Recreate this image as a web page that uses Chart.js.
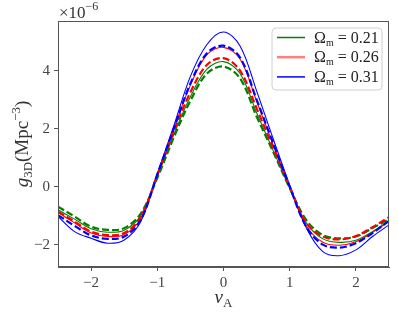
<!DOCTYPE html>
<html>
<head>
<meta charset="utf-8">
<script src="https://cdn.jsdelivr.net/npm/chart.js@4"></script>
<style>
  html, body { margin: 0; padding: 0; background: #fff; }
  canvas { display: block; }
</style>
</head>
<body>
<canvas id="chart" width="399" height="316"></canvas>
<script>
// nu_A sample points
var xValues = [-2.5, -2.25, -2, -1.75, -1.5, -1.25, -1, -0.75, -0.5, -0.25, 0,
               0.25, 0.5, 0.75, 1, 1.25, 1.5, 1.75, 2, 2.25, 2.5];

// g_3D in units of 1e-6 Mpc^-3, solid lines
var greenSolid = [-0.80, -1.12, -1.45, -1.57, -1.50, -1.00, 0.35, 1.80, 3.10, 4.05, 4.31,
                  3.90, 2.55, 1.25, -0.05, -1.25, -1.80, -1.92, -1.85, -1.55, -1.17];
var redSolid   = [-0.89, -1.25, -1.60, -1.72, -1.65, -1.10, 0.42, 2.00, 3.50, 4.55, 4.80,
                  4.40, 2.95, 1.45, 0.00, -1.35, -1.92, -2.02, -1.90, -1.58, -1.20];
var blueSolid  = [-1.03, -1.55, -1.78, -1.95, -1.84, -1.20, 0.45, 2.10, 3.80, 4.90, 5.33,
                  4.85, 3.30, 1.65, 0.05, -1.42, -2.24, -2.38, -2.18, -1.72, -1.32];

// dashed lines
var greenDashed = [-0.69, -1.03, -1.38, -1.49, -1.43, -0.93, 0.30, 1.70, 2.96, 3.90, 4.14,
                   3.73, 2.42, 1.20, -0.05, -1.15, -1.67, -1.78, -1.72, -1.43, -1.12];
var redDashed   = [-0.86, -1.20, -1.55, -1.67, -1.60, -1.05, 0.40, 1.90, 3.25, 4.20, 4.43,
                   4.00, 2.70, 1.35, 0.00, -1.25, -1.72, -1.82, -1.70, -1.40, -1.05];
var blueDashed  = [-0.98, -1.35, -1.68, -1.80, -1.72, -1.15, 0.42, 2.00, 3.55, 4.60, 4.86,
                   4.45, 3.00, 1.50, 0.00, -1.38, -2.00, -2.10, -1.95, -1.60, -1.18];

var omegaLabels = ['0.21', '0.26', '0.31'];
var xTicks = [-2, -1, 0, 1, 2];
var yTicks = [-2, 0, 2, 4];

var GREEN = '#008000', RED = '#ff0000', BLUE = '#0000ff';
var SERIF = '"Liberation Serif", "DejaVu Serif", serif';

function pts(arr) {
  return arr.map(function (v, i) { return { x: xValues[i], y: v }; });
}
function line(arr, color, dashed) {
  return {
    data: pts(arr),
    borderColor: color,
    borderWidth: dashed ? 2.2 : 1.1,
    borderDash: dashed ? [7, 3] : [],
    pointRadius: 0,
    fill: false,
    tension: 0.35
  };
}
function fmt(v) {
  return v < 0 ? '\u2212' + Math.abs(v) : String(v);
}

// draw text pieces with sub/superscripts
function richWidth(ctx, parts) {
  var w = 0;
  parts.forEach(function (p) {
    ctx.font = (p.italic ? 'italic ' : '') + p.size + 'px ' + SERIF;
    w += ctx.measureText(p.t).width;
  });
  return w;
}
function drawRich(ctx, parts, x, y) {
  parts.forEach(function (p) {
    ctx.font = (p.italic ? 'italic ' : '') + p.size + 'px ' + SERIF;
    ctx.fillText(p.t, x, y + (p.dy || 0));
    x += ctx.measureText(p.t).width;
  });
}

var extras = {
  id: 'extras',
  afterDraw: function (chart) {
    var ctx = chart.ctx, a = chart.chartArea;
    ctx.save();
    // frame
    ctx.strokeStyle = '#555';
    ctx.lineWidth = 1;
    ctx.strokeRect(a.left + 0.5, a.top + 0.5, a.right - a.left - 1, a.bottom - a.top - 1);

    ctx.fillStyle = '#333';
    ctx.textBaseline = 'alphabetic';
    ctx.textAlign = 'left';

    // offset text
    drawRich(ctx, [{ t: '\u00d710', size: 17 }, { t: '\u22126', size: 12, dy: -8 }], 59, 18);

    // x title
    var xt = [{ t: '\u03bd', size: 19, italic: true }, { t: 'A', size: 13, dy: 4 }];
    drawRich(ctx, xt, (a.left + a.right) / 2 - richWidth(ctx, xt) / 2, 303);

    // y title
    var yt = [{ t: 'g', size: 19, italic: true }, { t: '3D', size: 13, dy: 4 },
              { t: '(Mpc', size: 19 }, { t: '\u22123', size: 13, dy: -8 }, { t: ')', size: 19 }];
    ctx.save();
    ctx.translate(28, (a.top + a.bottom) / 2);
    ctx.rotate(-Math.PI / 2);
    drawRich(ctx, yt, -richWidth(ctx, yt) / 2, 0);
    ctx.restore();

    // legend box
    var lx = 272, ly = 28, lw = 110, lh = 62, r = 4;
    ctx.beginPath();
    ctx.moveTo(lx + r, ly);
    ctx.arcTo(lx + lw, ly, lx + lw, ly + lh, r);
    ctx.arcTo(lx + lw, ly + lh, lx, ly + lh, r);
    ctx.arcTo(lx, ly + lh, lx, ly, r);
    ctx.arcTo(lx, ly, lx + lw, ly, r);
    ctx.closePath();
    ctx.fillStyle = 'rgba(255,255,255,0.85)';
    ctx.fill();
    ctx.strokeStyle = '#d0d0d0';
    ctx.stroke();

    var colors = [GREEN, 'rgba(255,0,0,0.5)', BLUE];
    var widths = [1.5, 2.5, 1.5];
    omegaLabels.forEach(function (lab, i) {
      var yy = 37.5 + i * 19.7;
      ctx.strokeStyle = colors[i];
      ctx.lineWidth = widths[i];
      ctx.beginPath();
      ctx.moveTo(277, yy);
      ctx.lineTo(305, yy);
      ctx.stroke();
      ctx.fillStyle = '#222';
      drawRich(ctx, [{ t: '\u03a9', size: 16 }, { t: 'm', size: 10, dy: 3 },
                     { t: ' = ' + lab, size: 16 }], 314, yy + 5);
    });
    ctx.restore();
  }
};

new Chart(document.getElementById('chart'), {
  type: 'line',
  data: {
    datasets: [
      line(blueDashed, BLUE, true),
      line(redDashed, RED, true),
      line(greenDashed, GREEN, true),
      line(blueSolid, BLUE, false),
      line(redSolid, RED, false),
      line(greenSolid, GREEN, false)
    ]
  },
  options: {
    responsive: false,
    animation: false,
    devicePixelRatio: 1,
    layout: { padding: { top: 21, right: 10, left: 0, bottom: 0 } },
    plugins: { legend: { display: false }, tooltip: { enabled: false } },
    scales: {
      x: {
        type: 'linear',
        min: -2.5,
        max: 2.5,
        afterBuildTicks: function (s) { s.ticks = xTicks.map(function (v) { return { value: v }; }); },
        afterFit: function (s) { s.height = 49; },
        grid: { drawOnChartArea: false, drawTicks: true, tickLength: 4, tickColor: '#555' },
        border: { display: true, color: '#555' },
        ticks: { font: { family: SERIF, size: 15 }, color: '#444', padding: 3, maxRotation: 0,
                 callback: function (v) { return fmt(v); } }
      },
      y: {
        type: 'linear',
        min: -2.77,
        max: 5.71,
        afterBuildTicks: function (s) { s.ticks = yTicks.map(function (v) { return { value: v }; }); },
        afterFit: function (s) { s.width = 58; },
        grid: { drawOnChartArea: false, drawTicks: true, tickLength: 4, tickColor: '#555' },
        border: { display: true, color: '#555' },
        ticks: { font: { family: SERIF, size: 15 }, color: '#444', padding: 4,
                 callback: function (v) { return fmt(v); } }
      }
    }
  },
  plugins: [extras]
});
</script>
</body>
</html>
